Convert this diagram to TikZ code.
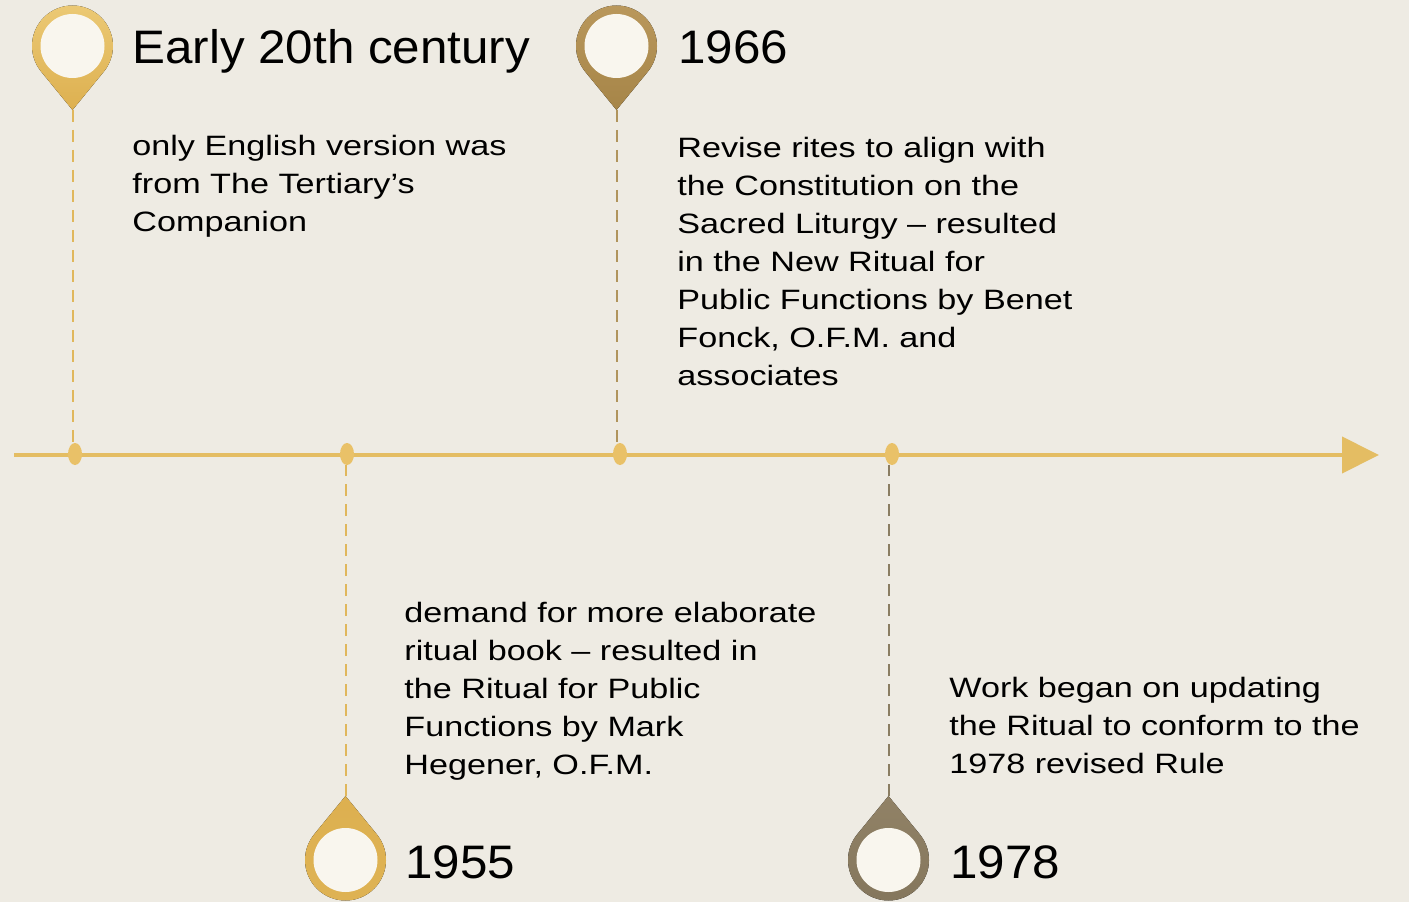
\documentclass[tikz,border=0pt]{standalone}
\usepackage{fontspec}
\setmainfont{Liberation Sans}[FakeStretch=1.22]
\newfontfamily\yearfont{Liberation Sans}[FakeStretch=1.05]
\usetikzlibrary{positioning,shapes.geometric,arrows.meta}

\definecolor{paper}{RGB}{238,235,227}
\definecolor{face}{RGB}{249,246,238}
\definecolor{goldhi}{RGB}{236,202,118}
\definecolor{goldlo}{RGB}{221,176,80}
\definecolor{brasshi}{RGB}{186,152,92}
\definecolor{brasslo}{RGB}{166,133,72}
\definecolor{taupehi}{RGB}{145,130,102}
\definecolor{taupelo}{RGB}{132,118,92}
\definecolor{axisgold}{RGB}{228,189,99}
\definecolor{dotgold}{RGB}{233,193,104}
\definecolor{leadgold}{RGB}{224,183,92}
\definecolor{leadbrass}{RGB}{176,148,92}
\definecolor{leadtaupe}{RGB}{138,125,98}

\tikzset{
  pics/droppin/.style args={#1/#2/#3}{code={
    \fill[top color=#2, bottom color=#3] (#1:64) -- (#1+50.7:40.5)
      arc[start angle=#1+50.7, delta angle=258.6, radius=40.5] -- cycle;
    \coordinate (-tip) at (#1:64);
    \node[circle, fill=face, minimum size=32pt, inner sep=0] (-face) {};
  }},
  dot/.style={ellipse, fill=dotgold, minimum width=7pt, minimum height=11pt, inner sep=0},
  lead/.style={#1, line width=1pt, dash pattern=on 6pt off 4pt},
  axis/.style={axisgold, line width=2pt, -{Triangle[length=18.5pt, width=18pt]}},
  year/.style={anchor=base west, inner sep=0, font=\yearfont\fontsize{23.5}{28}\selectfont},
  % anchored at the baseline of the last line
  body/.style={anchor=base west, inner sep=0, align=left, font=\fontsize{14}{19}\selectfont}
}

\begin{document}
\begin{tikzpicture}[x=0.5pt, y=-0.5pt]
\fill[paper] (0,0) rectangle (1409,902);

% time axis
\coordinate (a0) at (14,455);
\coordinate (a1) at (1379,455);
\draw[axis] (a0) -- (a1);

\node[dot] (d1) at (75,454) {};
\node[dot] (d2) at (347,454) {};
\node[dot] (d3) at (620,454) {};
\node[dot] (d4) at (892,454) {};

% pins above the axis
\pic (p1) at (72.5,46) {droppin={90/goldhi/goldlo}};
\pic (p2) at (616.5,46) {droppin={90/brasshi/brasslo}};
% pins below the axis
\pic (p3) at (345.5,860) {droppin={270/goldlo/goldlo!90!goldhi}};
\pic (p4) at (888.5,860) {droppin={270/taupehi/taupelo}};

\draw[lead=leadgold] (p1-tip) -- (p1-tip |- d1.north);
\draw[lead=leadbrass] (p2-tip) -- (p2-tip |- d3.north);
\draw[lead=leadgold] (p3-tip) -- (p3-tip |- d2.south);
\draw[lead=leadtaupe] (p4-tip) -- (p4-tip |- d4.south);

% years
\node[year] (y1) at (132,64) {Early 20th century};
\node[year] (y2) at (678,64) {1966};
\node[year] (y3) at (405,878) {1955};
\node[year] (y4) at (950,878) {1978};

% notes
\node[body] (n1) at (132,231) {only English version was\\from The Tertiary’s\\Companion};
\node[body] (n2) at (677,385) {Revise rites to align with\\the Constitution on the\\Sacred Liturgy – resulted\\in the New Ritual for\\Public Functions by Benet\\Fonck, O.F.M. and\\associates};
\node[body] (n3) at (404,774) {demand for more elaborate\\ritual book – resulted in\\the Ritual for Public\\Functions by Mark\\Hegener, O.F.M.};
\node[body] (n4) at (949,773) {Work began on updating\\the Ritual to conform to the\\1978 revised Rule};
\end{tikzpicture}
\end{document}
